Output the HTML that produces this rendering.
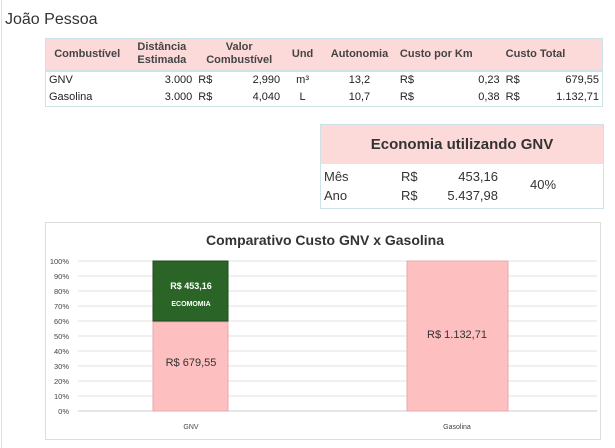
<!DOCTYPE html>
<html><head><meta charset="utf-8"><style>
body{margin:0;width:615px;height:448px;background:#fff;font-family:"Liberation Sans",Arial,sans-serif;position:relative;overflow:hidden}
.a{position:absolute}
table{border-collapse:collapse;position:absolute;font-size:11px;color:#222}
td{padding:0 3px;white-space:nowrap}
.h td{background:#fcdada;font-weight:bold;color:#444;text-align:center;line-height:13px}
</style></head><body>
<div class="a" style="left:1px;top:0;width:1px;height:448px;background:#cfe8ec"></div>
<div class="a" style="left:5px;top:11px;font-size:16px;color:#333">João Pessoa</div>
<table style="left:45px;top:38px;width:558px;border:1px solid #cde3e6">
<colgroup><col style="width:83px"><col style="width:67px"><col style="width:22px"><col style="width:66px"><col style="width:39px"><col style="width:75px"><col style="width:22px"><col style="width:84px"><col style="width:22px"><col style="width:78px"></colgroup>
<tr class="h" style="height:32px"><td>Combustível</td><td>Distância<br>Estimada</td><td colspan="2">Valor<br>Combustível</td><td>Und</td><td>Autonomia</td><td colspan="2" style="text-align:left">Custo por Km</td><td colspan="2" style="text-align:left">Custo Total</td></tr>
<tr style="height:18px;border-top:2px solid #cde3e6"><td>GNV</td><td style="text-align:right">3.000</td><td>R$</td><td style="text-align:right">2,990</td><td style="text-align:center">m³</td><td style="text-align:center">13,2</td><td>R$</td><td style="text-align:right">0,23</td><td>R$</td><td style="text-align:right">679,55</td></tr>
<tr style="height:18px"><td>Gasolina</td><td style="text-align:right">3.000</td><td>R$</td><td style="text-align:right">4,040</td><td style="text-align:center">L</td><td style="text-align:center">10,7</td><td>R$</td><td style="text-align:right">0,38</td><td>R$</td><td style="text-align:right">1.132,71</td></tr>
</table>
<div class="a" style="left:320px;top:124px;width:282px;height:83px;border:1px solid #cde3e6"></div>
<div class="a" style="left:321px;top:125px;width:282px;height:39px;background:#fcdada;text-align:center;line-height:39px;font-weight:bold;font-size:15px;color:#333">Economia utilizando GNV</div>
<div class="a" style="left:324px;top:167px;font-size:13px;color:#333;line-height:19px">Mês<br>Ano</div>
<div class="a" style="left:401px;top:167px;font-size:13px;color:#333;line-height:19px">R$<br>R$</div>
<div class="a" style="left:420px;top:167px;width:78px;text-align:right;font-size:13px;color:#333;line-height:19px">453,16<br>5.437,98</div>
<div class="a" style="left:530px;top:177px;font-size:13px;color:#333">40%</div>
<svg class="a" style="left:0;top:0" width="615" height="448">
<rect x="45.5" y="222.5" width="555" height="217" fill="#fff" stroke="#ddd"/>
<text x="325" y="245" text-anchor="middle" font-size="14" font-weight="bold" fill="#333">Comparativo Custo GNV x Gasolina</text>
<g stroke="#e2e2e2">
<line x1="78" x2="597" y1="261" y2="261"/><line x1="78" x2="597" y1="276" y2="276"/><line x1="78" x2="597" y1="291" y2="291"/><line x1="78" x2="597" y1="306" y2="306"/><line x1="78" x2="597" y1="321" y2="321"/><line x1="78" x2="597" y1="336" y2="336"/><line x1="78" x2="597" y1="351" y2="351"/><line x1="78" x2="597" y1="366" y2="366"/><line x1="78" x2="597" y1="381" y2="381"/><line x1="78" x2="597" y1="396" y2="396"/></g>
<line x1="78" x2="597" y1="411" y2="411" stroke="#ccc"/>
<g font-size="7.5" fill="#444" text-anchor="end">
<text x="69" y="264">100%</text><text x="69" y="279">90%</text><text x="69" y="294">80%</text><text x="69" y="309">70%</text><text x="69" y="324">60%</text><text x="69" y="339">50%</text><text x="69" y="354">40%</text><text x="69" y="369">30%</text><text x="69" y="384">20%</text><text x="69" y="399">10%</text><text x="69" y="414">0%</text></g>
<rect x="153" y="322" width="75" height="89" fill="#fdbfbf" stroke="#e6a8a8"/>
<rect x="153" y="261" width="75" height="60" fill="#2a6427" stroke="#1e4a1c"/>
<rect x="407" y="261" width="101" height="150" fill="#fdbfbf" stroke="#e6a8a8"/>
<text x="191" y="289" text-anchor="middle" font-size="9" font-weight="bold" fill="#fff">R$ 453,16</text>
<text x="191" y="306" text-anchor="middle" font-size="7" font-weight="bold" fill="#fff">ECOMOMIA</text>
<text x="191" y="366" text-anchor="middle" font-size="11" fill="#333">R$ 679,55</text>
<text x="457" y="338" text-anchor="middle" font-size="11" fill="#333">R$ 1.132,71</text>
<text x="191" y="429" text-anchor="middle" font-size="7" fill="#444">GNV</text>
<text x="457" y="429" text-anchor="middle" font-size="7" fill="#444">Gasolina</text>
</svg>
</body></html>
